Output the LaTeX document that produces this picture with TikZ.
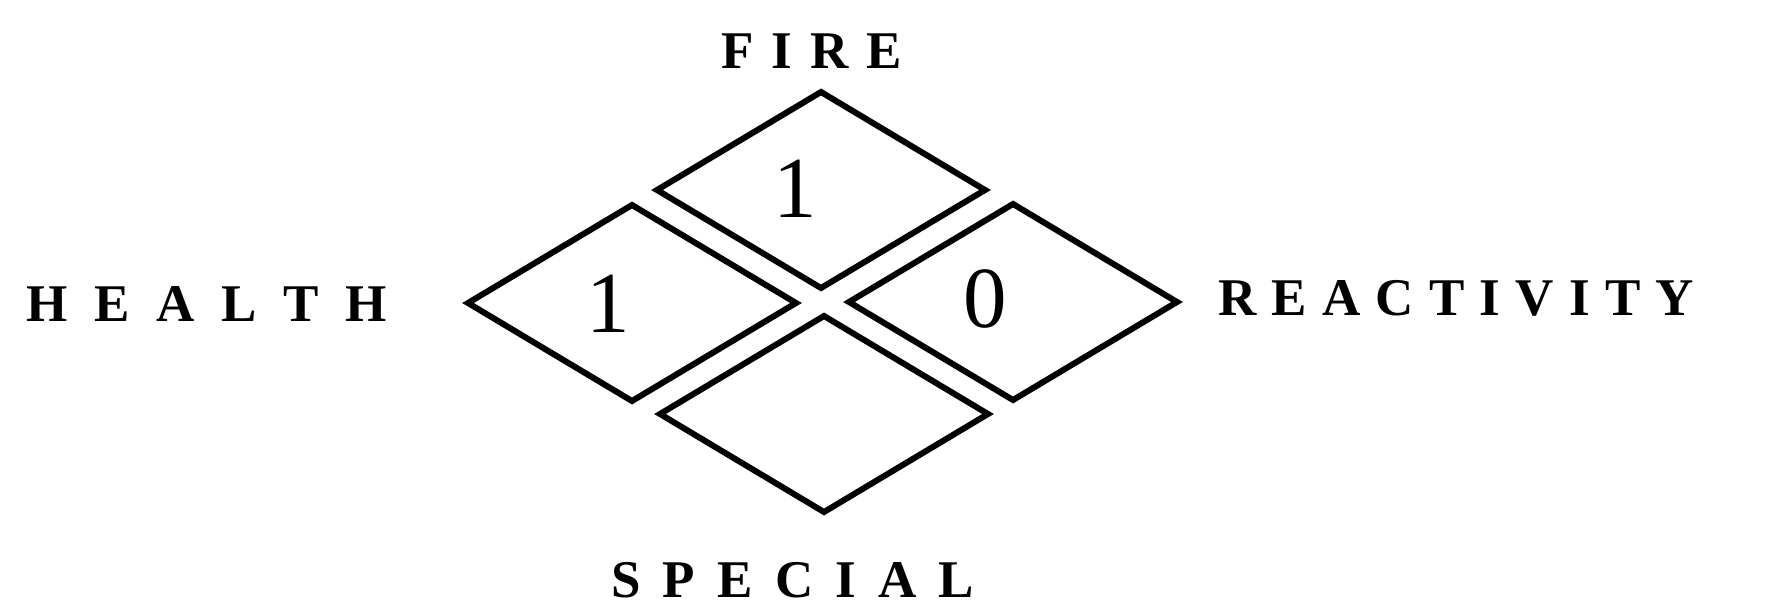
\documentclass[tikz,border=0pt]{standalone}
\usepackage{fontspec}
\setmainfont{Liberation Serif}
\begin{document}
\begin{tikzpicture}[x=1pt,y=-1pt,
  dia/.style={draw=black,line width=6pt,line join=miter},
  lab/.style={font=\fontsize{53}{53}\selectfont\bfseries,inner sep=0pt,anchor=base west},
  num/.style={font=\fontsize{87}{87}\selectfont,inner sep=0pt,anchor=base}]
\useasboundingbox (0,0) rectangle (1766,605);
% diamond centres
\coordinate (cf) at (821,190);
\coordinate (ch) at (632,303);
\coordinate (cr) at (1013,302);
\coordinate (cs) at (824,414);
\foreach \c in {cf,ch,cr,cs}{
  \draw[dia] (\c) ++(-164,0) -- ++(164,-98) -- ++(164,98) -- ++(-164,98) -- cycle;
}
% numbers
\node[num] (nf) at (795,217) {1};
\node[num] (nh) at (608,332) {1};
\node[num] (nr) at (985,327) {0};
% labels
\node[lab] (fire) at (721,68) {\makebox[181pt][s]{F\hfil I\hfil R\hfil E}};
\node[lab] (health) at (26,321) {\makebox[361pt][s]{H\hfil E\hfil A\hfil L\hfil T\hfil H}};
\node[lab] (react) at (1218,315) {\makebox[476pt][s]{R\hfil E\hfil A\hfil C\hfil T\hfil I\hfil V\hfil I\hfil T\hfil Y}};
\node[lab] (special) at (611,597) {\makebox[363pt][s]{S\hfil P\hfil E\hfil C\hfil I\hfil A\hfil L}};
\end{tikzpicture}
\end{document}
